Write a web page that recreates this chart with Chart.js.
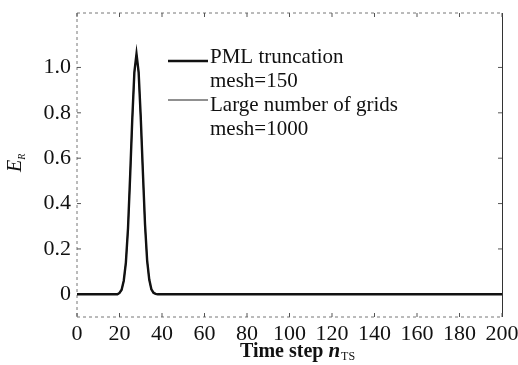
<!DOCTYPE html>
<html>
<head>
<meta charset="utf-8">
<script src="https://cdn.jsdelivr.net/npm/chart.js@4/dist/chart.umd.min.js"></script>
<style>
  html, body { margin: 0; padding: 0; background: #fff; }
  #wrap { width: 518px; height: 365px; }
</style>
</head>
<body>
<div id="wrap"><canvas id="pulseChart"></canvas></div>
<script>
// values (E_R against time step)
const timeSteps = [0, 19, 20, 21, 22, 23, 24, 25, 26, 27, 28, 29, 30, 31, 32, 33, 34, 35, 36, 37, 38, 39, 200];
const pmlValues = [0, 0, 0.006, 0.02, 0.06, 0.14, 0.29, 0.52, 0.77, 0.98, 1.06, 0.98, 0.78, 0.54, 0.31, 0.15, 0.065, 0.022, 0.007, 0.002, 0, 0, 0];
const largeGridValues = [0, 0, 0.005, 0.019, 0.058, 0.138, 0.285, 0.515, 0.765, 0.975, 1.055, 0.975, 0.775, 0.535, 0.305, 0.148, 0.063, 0.021, 0.006, 0.002, 0, 0, 0];

const xTickValues = [0, 20, 40, 60, 80, 100, 120, 140, 160, 180, 200];
const yTickValues = [0, 0.2, 0.4, 0.6, 0.8, 1.0];
const seriesLabels = [
  ["PML truncation", "mesh=150"],
  ["Large number of grids", "mesh=1000"]
];

const serif = "'Liberation Serif', 'Times New Roman', serif";

function toPoints(values) {
  return timeSteps.map((t, i) => ({ x: t, y: values[i] }));
}

/* frame with inward tick marks */
const framePlugin = {
  id: "frame",
  beforeDatasetsDraw(chart) {
    const { ctx, chartArea: a, scales } = chart;
    ctx.save();
    ctx.lineWidth = 1;
    ctx.strokeStyle = "#777";
    ctx.setLineDash([3, 3]);
    ctx.beginPath();
    ctx.moveTo(a.left, a.top); ctx.lineTo(a.right, a.top);
    ctx.moveTo(a.left, a.top); ctx.lineTo(a.left, a.bottom);
    ctx.moveTo(a.left, a.bottom); ctx.lineTo(a.right, a.bottom);
    ctx.stroke();
    ctx.setLineDash([]);
    ctx.strokeStyle = "#333";
    ctx.beginPath();
    ctx.moveTo(a.right + 0.5, a.top); ctx.lineTo(a.right + 0.5, a.bottom);
    ctx.stroke();

    ctx.strokeStyle = "#555";
    ctx.beginPath();
    xTickValues.forEach(v => {
      const px = scales.x.getPixelForValue(v);
      ctx.moveTo(px, a.top); ctx.lineTo(px, a.top + 4);
      ctx.moveTo(px, a.bottom); ctx.lineTo(px, a.bottom - 4);
    });
    yTickValues.forEach(v => {
      const py = scales.y.getPixelForValue(v);
      ctx.moveTo(a.left, py); ctx.lineTo(a.left + 4, py);
      ctx.moveTo(a.right, py); ctx.lineTo(a.right - 4, py);
    });
    ctx.stroke();
    ctx.restore();
  }
};

/* axis titles with subscripts */
const titlesPlugin = {
  id: "titles",
  afterDraw(chart) {
    const { ctx, chartArea: a } = chart;
    ctx.save();
    ctx.fillStyle = "#111";
    ctx.textBaseline = "alphabetic";

    // x title: Time step n_TS
    ctx.font = "bold 20px " + serif;
    const w1 = ctx.measureText("Time step ").width;
    ctx.font = "italic bold 21px " + serif;
    const w2 = ctx.measureText("n").width;
    ctx.font = "12px " + serif;
    const w3 = ctx.measureText("TS").width;
    let x = (a.left + a.right) / 2 + 8 - (w1 + w2 + w3 + 1) / 2;
    const base = 357;
    ctx.font = "bold 20px " + serif;
    ctx.fillText("Time step ", x, base);
    x += w1;
    ctx.font = "italic bold 21px " + serif;
    ctx.fillText("n", x, base);
    x += w2 + 1;
    ctx.font = "12px " + serif;
    ctx.fillText("TS", x, base + 3);

    // y title: E_R, rotated
    ctx.translate(21, 164);
    ctx.rotate(-Math.PI / 2);
    ctx.font = "italic 20px " + serif;
    const we = ctx.measureText("E").width;
    ctx.fillText("E", -8, 0);
    ctx.font = "italic 10px " + serif;
    ctx.fillText("R", -8 + we, 4);
    ctx.restore();
  }
};

/* legend drawn inside the plot */
const legendPlugin = {
  id: "innerLegend",
  afterDraw(chart) {
    const { ctx, chartArea: a } = chart;
    const x0 = a.left + 91;
    const textTop = a.top + 44;
    const lineY = [a.top + 48, a.top + 87];
    ctx.save();
    ctx.font = "21px " + serif;
    ctx.fillStyle = "#111";
    ctx.textBaseline = "middle";
    chart.data.datasets.forEach((ds, i) => {
      ctx.strokeStyle = ds.borderColor;
      ctx.lineWidth = ds.borderWidth;
      ctx.beginPath();
      ctx.moveTo(x0, lineY[i]);
      ctx.lineTo(x0 + 40, lineY[i]);
      ctx.stroke();
      seriesLabels[i].forEach((line, j) => {
        ctx.fillText(line, x0 + 42, textTop + (i * 2 + j) * 24);
      });
    });
    ctx.restore();
  }
};

new Chart(document.getElementById("pulseChart"), {
  type: "line",
  data: {
    datasets: [
      {
        label: seriesLabels[0].join(" "),
        data: toPoints(pmlValues),
        borderColor: "#111",
        borderWidth: 2.4,
        pointRadius: 0,
        tension: 0
      },
      {
        label: seriesLabels[1].join(" "),
        data: toPoints(largeGridValues),
        borderColor: "#222",
        borderWidth: 1.2,
        pointRadius: 0,
        tension: 0
      }
    ]
  },
  options: {
    responsive: true,
    maintainAspectRatio: false,
    animation: false,
    layout: { padding: { top: 13, right: 16, left: 0, bottom: 0 } },
    plugins: {
      legend: { display: false },
      tooltip: { enabled: false }
    },
    scales: {
      x: {
        type: "linear",
        min: 0,
        max: 200,
        afterBuildTicks: s => { s.ticks = xTickValues.map(v => ({ value: v })); },
        afterFit: s => { s.height = 48; s.paddingLeft = 0; s.paddingRight = 0; },
        grid: { display: false, drawTicks: false },
        border: { display: false },
        ticks: {
          color: "#111",
          font: { family: serif, size: 22 },
          padding: 4,
          maxRotation: 0,
          autoSkip: false
        }
      },
      y: {
        type: "linear",
        min: -0.1,
        max: 1.24,
        afterBuildTicks: s => { s.ticks = yTickValues.map(v => ({ value: v })); },
        afterFit: s => { s.width = 77; s.paddingTop = 0; s.paddingBottom = 0; },
        grid: { display: false, drawTicks: false },
        border: { display: false },
        ticks: {
          color: "#111",
          font: { family: serif, size: 22 },
          padding: 6,
          callback: v => v === 0 ? "0" : v.toFixed(1)
        }
      }
    }
  },
  plugins: [framePlugin, titlesPlugin, legendPlugin]
});
</script>
</body>
</html>
